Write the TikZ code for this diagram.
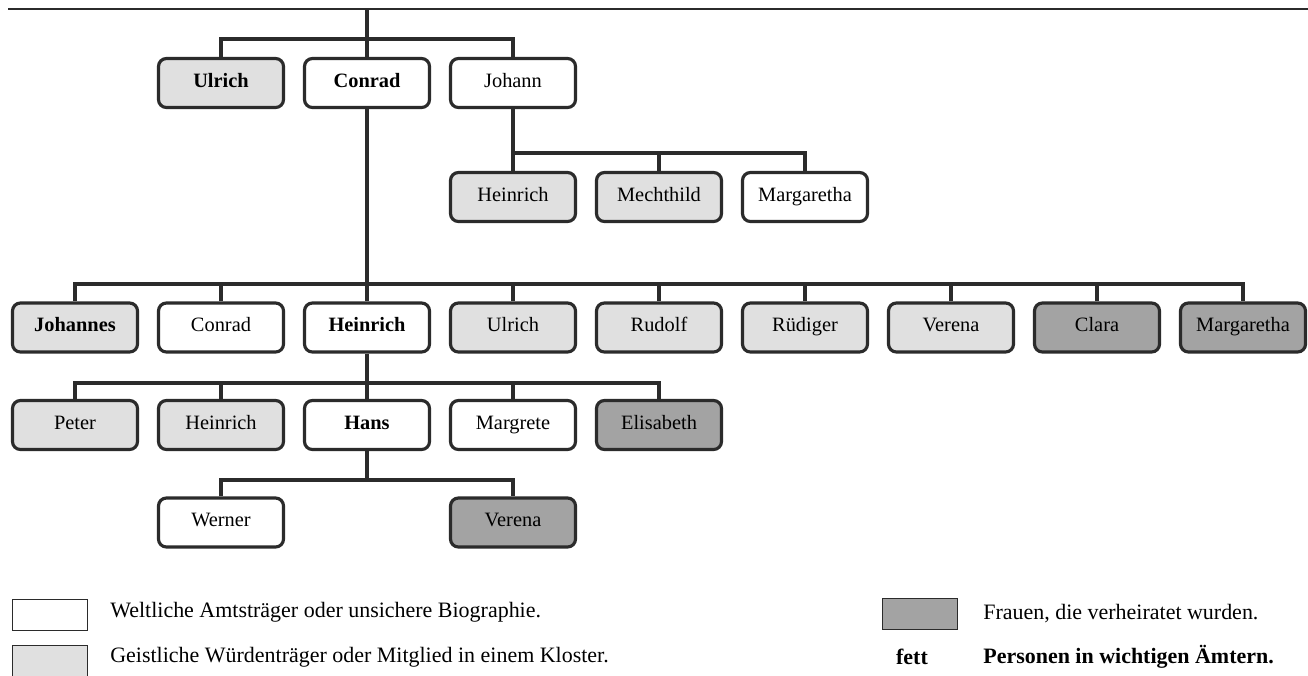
\documentclass[tikz,border=0pt]{standalone}
\usepackage{fontspec}
\setmainfont{Liberation Serif}
\usepackage{xcolor}
\definecolor{hell}{gray}{0.88}
\definecolor{dunkel}{gray}{0.64}
\definecolor{linie}{gray}{0.17}

\begin{document}
\begin{tikzpicture}[font=\fontsize{11.6}{13}\selectfont,line join=miter,
  pers/.style={draw=linie,line width=1.8pt,rounded corners=4.5pt,fill=white,
    minimum width=2.5cm,minimum height=0.98cm,inner sep=0pt,
    text height=0.68em,text depth=0.22em},
  geist/.style={pers,fill=hell},
  frau/.style={pers,fill=dunkel},
  ast/.style={draw=linie,line width=2.2pt},
  leg/.style={draw=linie,line width=1pt,minimum width=1.5cm,minimum height=0.62cm,inner sep=0pt},
  legtext/.style={anchor=west,inner sep=0pt,font=\fontsize{12.5}{14}\selectfont}]
\useasboundingbox (0,0) rectangle (26.16,-13.5);

% Kopflinie
\coordinate (links) at (0.16,-0.18);
\coordinate (rechts) at (26.16,-0.18);
\draw[linie,line width=1.1pt] (links) -- (rechts);
\coordinate (wurzel) at (7.34,-0.18);

% erste Generation
\node[geist] (ulrichA) at (4.42,-1.66) {\textbf{Ulrich}};
\node[pers] (conradA) at (7.34,-1.66) {\textbf{Conrad}};
\node[pers] (johannA) at (10.26,-1.66) {Johann};
\coordinate (barA) at (7.34,-0.78);
\draw[ast] (wurzel) -- (conradA.north);
\draw[ast] (ulrichA.north) |- (barA) -| (johannA.north);

% Kinder von Johann
\node[geist] (heinrichB) at (10.26,-3.94) {Heinrich};
\node[geist] (mechthildB) at (13.18,-3.94) {Mechthild};
\node[pers] (margarethaB) at (16.1,-3.94) {Margaretha};
\coordinate (barB) at (10.26,-3.06);
\draw[ast] (johannA.south) -- (barB) -| (margarethaB.north);
\draw[ast] (barB) -- (heinrichB.north);
\draw[ast] (mechthildB.north) -- (mechthildB.north |- barB);

% Kinder von Conrad
\node[geist] (johannesC) at (1.5,-6.55) {\textbf{Johannes}};
\node[pers] (conradC) at (4.42,-6.55) {Conrad};
\node[pers] (heinrichC) at (7.34,-6.55) {\textbf{Heinrich}};
\node[geist] (ulrichC) at (10.26,-6.55) {Ulrich};
\node[geist] (rudolfC) at (13.18,-6.55) {Rudolf};
\node[geist] (ruedigerC) at (16.1,-6.55) {Rüdiger};
\node[geist] (verenaC) at (19.02,-6.55) {Verena};
\node[frau] (claraC) at (21.94,-6.55) {Clara};
\node[frau] (margarethaC) at (24.86,-6.55) {Margaretha};
\coordinate (barC) at (7.34,-5.68);
\draw[ast] (conradA.south) -- (heinrichC.north);
\draw[ast] (johannesC.north) |- (barC) -| (margarethaC.north);
\draw[ast] (conradC.north) -- (conradC.north |- barC);
\draw[ast] (ulrichC.north) -- (ulrichC.north |- barC);
\draw[ast] (rudolfC.north) -- (rudolfC.north |- barC);
\draw[ast] (ruedigerC.north) -- (ruedigerC.north |- barC);
\draw[ast] (verenaC.north) -- (verenaC.north |- barC);
\draw[ast] (claraC.north) -- (claraC.north |- barC);

% Kinder von Heinrich
\node[geist] (peterD) at (1.5,-8.5) {Peter};
\node[geist] (heinrichD) at (4.42,-8.5) {Heinrich};
\node[pers] (hansD) at (7.34,-8.5) {\textbf{Hans}};
\node[pers] (margreteD) at (10.26,-8.5) {Margrete};
\node[frau] (elisabethD) at (13.18,-8.5) {Elisabeth};
\coordinate (barD) at (7.34,-7.66);
\draw[ast] (heinrichC.south) -- (hansD.north);
\draw[ast] (peterD.north) |- (barD) -| (elisabethD.north);
\draw[ast] (heinrichD.north) -- (heinrichD.north |- barD);
\draw[ast] (margreteD.north) -- (margreteD.north |- barD);

% Kinder von Hans
\node[pers] (wernerE) at (4.42,-10.45) {Werner};
\node[frau] (verenaE) at (10.26,-10.45) {Verena};
\coordinate (barE) at (7.34,-9.6);
\draw[ast] (hansD.south) -- (barE);
\draw[ast] (wernerE.north) |- (barE) -| (verenaE.north);

% Legende
\node[leg,fill=white] (legweiss) at (1.0,-12.3) {};
\node[legtext] (txtweiss) at (2.2,-12.24) {Weltliche Amtsträger oder unsichere Biographie.};
\node[leg,fill=hell] (leghell) at (1.0,-13.22) {};
\node[legtext] (txthell) at (2.2,-13.14) {Geistliche Würdenträger oder Mitglied in einem Kloster.};
\node[leg,fill=dunkel] (legdunkel) at (18.4,-12.28) {};
\node[legtext] (txtdunkel) at (19.66,-12.28) {Frauen, die verheiratet wurden.};
\node[font=\fontsize{12.5}{14}\selectfont\bfseries] (legfett) at (18.24,-13.14) {fett};
\node[legtext,font=\fontsize{12.5}{14}\selectfont\bfseries] (txtfett) at (19.66,-13.14) {Personen in wichtigen Ämtern.};
\end{tikzpicture}
\end{document}
